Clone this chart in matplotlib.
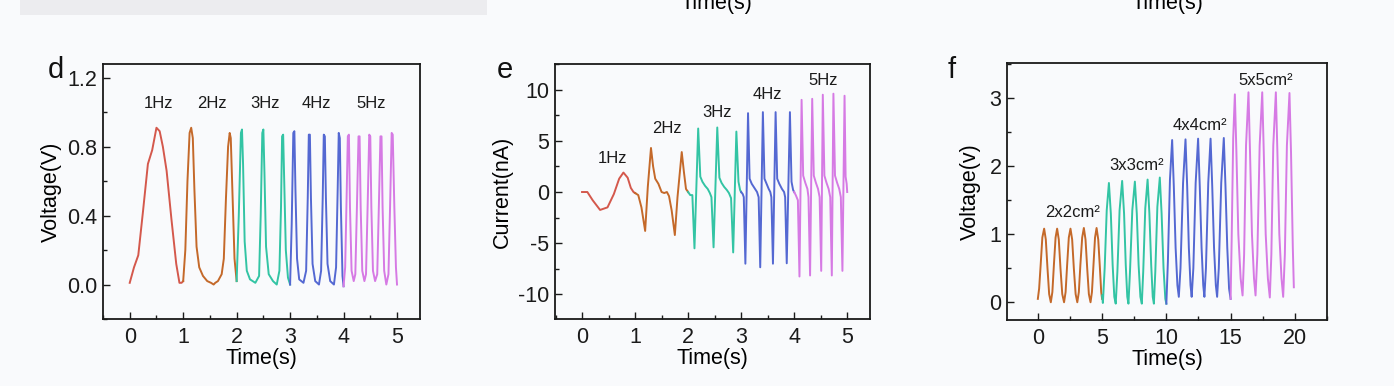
import matplotlib
matplotlib.use("Agg")
import matplotlib.pyplot as plt
from matplotlib.ticker import MultipleLocator, FormatStrFormatter

plt.rcParams['font.family'] = ['Liberation Sans', 'DejaVu Sans']
plt.rcParams['axes.unicode_minus'] = False

# ---------------- data: panel d (voltage vs frequency) ----------------
d_freq_labels = ["1Hz", "2Hz", "3Hz", "4Hz", "5Hz"]
d_t_1 = [0.00, 0.08, 0.16, 0.25, 0.34, 0.42, 0.50, 0.56, 0.62, 0.69, 0.78, 0.87, 0.93, 0.97, 1.00]
d_v_1 = [0.01, 0.10, 0.17, 0.43, 0.70, 0.78, 0.91, 0.89, 0.80, 0.66, 0.38, 0.12, 0.01, 0.01, 0.02]
d_t_2 = [1.00, 1.04, 1.08, 1.12, 1.15, 1.18, 1.21, 1.25, 1.30, 1.37, 1.45, 1.52, 1.57, 1.60, 1.65,
         1.72, 1.76, 1.80, 1.84, 1.87, 1.89, 1.92, 1.96, 2.00]
d_v_2 = [0.02, 0.20, 0.60, 0.88, 0.91, 0.85, 0.55, 0.22, 0.10, 0.05, 0.02, 0.01, 0.00, 0.01, 0.02,
         0.06, 0.15, 0.50, 0.80, 0.88, 0.85, 0.55, 0.15, 0.02]
d_t_3 = [2.00, 2.04, 2.08, 2.10, 2.12, 2.15, 2.19, 2.25, 2.35, 2.42, 2.45, 2.48, 2.50, 2.52, 2.55,
         2.60, 2.68, 2.75, 2.80, 2.83, 2.85, 2.87, 2.89, 2.92, 2.96, 3.00]
d_v_3 = [0.02, 0.40, 0.88, 0.90, 0.70, 0.25, 0.08, 0.03, 0.01, 0.05, 0.40, 0.88, 0.90, 0.65, 0.22,
         0.06, 0.02, 0.00, 0.08, 0.45, 0.86, 0.87, 0.60, 0.20, 0.04, 0.00]
d_t_4 = [3.00, 3.03, 3.06, 3.08, 3.10, 3.13, 3.17, 3.25, 3.30, 3.33, 3.35, 3.37, 3.39, 3.42, 3.47,
         3.54, 3.58, 3.61, 3.63, 3.65, 3.67, 3.70, 3.75, 3.82, 3.86, 3.89, 3.91, 3.93, 3.95, 3.98, 4.00]
d_v_4 = [0.00, 0.35, 0.88, 0.89, 0.55, 0.15, 0.03, 0.01, 0.08, 0.50, 0.87, 0.87, 0.50, 0.12, 0.02,
         0.00, 0.08, 0.50, 0.87, 0.86, 0.50, 0.12, 0.02, 0.00, 0.10, 0.55, 0.88, 0.85, 0.45, 0.05, -0.01]
d_t_5 = [4.00, 4.03, 4.06, 4.08, 4.10, 4.12, 4.15, 4.19, 4.22, 4.25, 4.28, 4.30, 4.32, 4.35, 4.39,
         4.42, 4.45, 4.48, 4.50, 4.52, 4.55, 4.59, 4.63, 4.66, 4.69, 4.71, 4.73, 4.76, 4.80, 4.84,
         4.87, 4.90, 4.92, 4.95, 4.98, 5.00]
d_v_5 = [-0.01, 0.10, 0.55, 0.86, 0.87, 0.45, 0.08, 0.02, 0.06, 0.45, 0.86, 0.86, 0.45, 0.08, 0.02,
         0.06, 0.45, 0.87, 0.86, 0.45, 0.08, 0.02, 0.06, 0.45, 0.86, 0.86, 0.45, 0.08, 0.00, 0.06,
         0.45, 0.88, 0.87, 0.45, 0.10, 0.00]

# ---------------- data: panel e (current vs frequency) ----------------
e_t_1 = [0.00, 0.10, 0.20, 0.34, 0.48, 0.60, 0.70, 0.78, 0.86, 0.92, 0.97, 1.00]
e_v_1 = [0.0, 0.0, -0.8, -1.75, -1.5, -0.2, 1.3, 1.9, 1.4, 0.4, 0.0, -0.1]
e_t_2 = [1.00, 1.06, 1.12, 1.19, 1.24, 1.30, 1.34, 1.38, 1.44, 1.50, 1.55, 1.60, 1.64, 1.69, 1.75,
         1.80, 1.88, 1.92, 1.96, 2.00]
e_v_2 = [-0.1, -0.3, -1.5, -3.8, 0.5, 4.3, 2.5, 1.3, 0.8, 0.0, -0.1, 0.0, -0.4, -1.8, -4.2,
         -0.5, 3.9, 2.0, 0.3, 0.0]
e_t_3 = [2.00, 2.04, 2.08, 2.12, 2.19, 2.23, 2.27, 2.32, 2.37, 2.41, 2.44, 2.48, 2.55, 2.59, 2.63,
         2.68, 2.73, 2.77, 2.81, 2.85, 2.91, 2.95, 2.98, 3.00]
e_v_3 = [0.0, -0.3, -0.3, -5.5, 6.2, 1.5, 1.0, 0.6, 0.3, -0.1, -0.5, -5.4, 6.3, 1.4, 0.9,
         0.5, 0.2, -0.1, -0.6, -5.9, 5.9, 1.0, 0.2, 0.0]
e_t_4 = [3.00, 3.03, 3.05, 3.08, 3.13, 3.16, 3.20, 3.25, 3.30, 3.33, 3.36, 3.41, 3.44, 3.48, 3.52,
         3.55, 3.57, 3.60, 3.65, 3.68, 3.72, 3.77, 3.81, 3.83, 3.86, 3.92, 3.95, 3.98, 4.00]
e_v_4 = [0.0, -0.2, -0.5, -7.0, 7.7, 1.3, 0.8, 0.4, 0.0, -0.5, -7.35, 7.8, 1.3, 0.8, 0.3,
         0.0, -0.5, -7.0, 7.8, 1.3, 0.8, 0.3, 0.0, -0.5, -6.96, 7.8, 1.0, 0.2, 0.0]
e_t_5 = [4.00, 4.03, 4.07, 4.10, 4.14, 4.17, 4.21, 4.25, 4.27, 4.30, 4.34, 4.37, 4.41, 4.45, 4.48,
         4.51, 4.54, 4.57, 4.61, 4.65, 4.68, 4.71, 4.74, 4.77, 4.81, 4.85, 4.88, 4.91, 4.95, 4.97,
         4.99, 5.00]
e_v_5 = [0.0, -0.3, -0.8, -8.25, 9.0, 1.6, 0.9, 0.3, -0.5, -8.15, 9.1, 1.6, 0.9, 0.3, -0.5,
         -7.7, 9.5, 1.6, 0.9, 0.3, -0.5, -8.15, 9.6, 1.6, 0.9, 0.3, -0.5, -7.7, 9.4, 1.5,
         0.8, 0.0]

# ---------------- data: panel f (voltage vs area) ----------------
f_area_labels = ["2x2cm\u00b2", "3x3cm\u00b2", "4x4cm\u00b2", "5x5cm\u00b2"]
f_t_2 = [0.00, 0.10, 0.22, 0.35, 0.49, 0.62, 0.75, 0.88, 1.01, 1.13, 1.25, 1.38, 1.50, 1.63, 1.76,
         1.90, 2.04, 2.16, 2.28, 2.41, 2.54, 2.67, 2.80, 2.94, 3.07, 3.19, 3.31, 3.45, 3.58, 3.71,
         3.84, 3.97, 4.10, 4.21, 4.33, 4.45, 4.57, 4.70, 4.83, 4.93, 5.00]
f_v_2 = [0.05, 0.20, 0.55, 0.95, 1.08, 0.92, 0.50, 0.12, 0.00, 0.15, 0.55, 0.95, 1.08, 0.92, 0.50,
         0.12, 0.00, 0.15, 0.55, 0.95, 1.08, 0.92, 0.50, 0.12, 0.00, 0.15, 0.55, 0.95, 1.09, 0.92,
         0.50, 0.12, 0.00, 0.15, 0.55, 0.95, 1.09, 0.92, 0.50, 0.15, 0.05]
f_t_3 = [5.00, 5.06, 5.20, 5.36, 5.53, 5.68, 5.82, 5.95, 6.06, 6.19, 6.36, 6.56, 6.71, 6.84, 6.96,
         7.05, 7.17, 7.35, 7.55, 7.70, 7.84, 7.98, 8.09, 8.20, 8.36, 8.54, 8.68, 8.82, 8.94, 9.03,
         9.14, 9.30, 9.49, 9.63, 9.78, 9.92, 10.00]
f_v_3 = [0.10, -0.01, 0.50, 1.35, 1.75, 1.30, 0.55, 0.08, -0.02, 0.45, 1.35, 1.78, 1.30, 0.55, 0.08,
         -0.02, 0.45, 1.35, 1.77, 1.30, 0.55, 0.08, -0.02, 0.45, 1.38, 1.80, 1.30, 0.55, 0.08, -0.02,
         0.45, 1.40, 1.83, 1.30, 0.50, 0.05, -0.02]
f_t_4 = [10.00, 10.12, 10.28, 10.45, 10.58, 10.72, 10.86, 10.97, 11.10, 11.30, 11.49, 11.62, 11.75,
         11.88, 11.97, 12.10, 12.28, 12.47, 12.60, 12.74, 12.87, 12.96, 13.08, 13.26, 13.44, 13.57,
         13.71, 13.85, 13.95, 14.08, 14.27, 14.47, 14.60, 14.74, 14.88, 15.00]
f_v_4 = [-0.02, 0.60, 1.80, 2.38, 1.70, 0.80, 0.25, 0.08, 0.50, 1.75, 2.39, 1.70, 0.80,
         0.25, 0.08, 0.50, 1.75, 2.40, 1.70, 0.80, 0.25, 0.08, 0.50, 1.75, 2.40, 1.70,
         0.80, 0.25, 0.08, 0.50, 1.75, 2.41, 1.70, 0.80, 0.20, 0.05]
f_t_5 = [15.00, 15.08, 15.20, 15.33, 15.45, 15.60, 15.78, 15.93, 16.05, 16.20, 16.39, 16.51, 16.66,
         16.82, 16.94, 17.08, 17.26, 17.46, 17.58, 17.73, 17.90, 18.05, 18.17, 18.32, 18.52, 18.64,
         18.79, 18.96, 19.09, 19.22, 19.38, 19.58, 19.70, 19.84, 19.92]
f_v_5 = [0.05, 0.90, 2.40, 3.05, 2.20, 1.00, 0.35, 0.10, 0.70, 2.30, 3.08, 2.20, 1.00,
         0.35, 0.10, 0.70, 2.30, 3.08, 2.20, 1.00, 0.35, 0.07, 0.70, 2.30, 3.08, 2.20,
         1.00, 0.35, 0.08, 0.70, 2.30, 3.07, 2.20, 0.80, 0.22]

# ---------------- styling ----------------
c_red = '#d4584c'
c_brown = '#c4692a'
c_teal = '#33c4a4'
c_blue = '#5468d2'
c_violet = '#d67ae4'
bg = '#f9fafc'
lw = 1.4
tick_fs = 15.5
label_fs = 15.5
ann_fs = 12

fig = plt.figure(figsize=(13.94, 3.86), dpi=100, facecolor=bg)

# faint remnants of the panels above (cropped in the reference)
fig.patches.append(plt.Rectangle((20 / 1394, 1 - 15 / 386), 467 / 1394, 15 / 386,
                                 transform=fig.transFigure, facecolor='#ececef',
                                 edgecolor='none', zorder=0))
fig.text(716 / 1394, 1 - 9 / 386, "Time(s)", ha='center', va='baseline', fontsize=label_fs)
fig.text(1167 / 1394, 1 - 9 / 386, "Time(s)", ha='center', va='baseline', fontsize=label_fs)


def style(ax, xmaj, xmin, ymaj, ymin):
    ax.set_facecolor(bg)
    for s in ax.spines.values():
        s.set_linewidth(1.3)
        s.set_color('#1a1a1a')
    ax.xaxis.set_major_locator(MultipleLocator(xmaj))
    ax.xaxis.set_minor_locator(MultipleLocator(xmin))
    ax.yaxis.set_major_locator(MultipleLocator(ymaj))
    ax.yaxis.set_minor_locator(MultipleLocator(ymin))
    ax.tick_params(which='both', direction='in', top=False, right=False,
                   labelsize=tick_fs, width=1.0, colors='#1a1a1a')
    ax.tick_params(which='major', length=5)
    ax.tick_params(which='minor', length=3)
    ax.tick_params(axis='x', pad=6)
    ax.tick_params(axis='y', pad=4)


# ---------------- panel d ----------------
axd = fig.add_axes([103 / 1394, 1 - 319 / 386, 317 / 1394, 255 / 386])
for t, v, c in [(d_t_1, d_v_1, c_red), (d_t_2, d_v_2, c_brown), (d_t_3, d_v_3, c_teal),
                (d_t_4, d_v_4, c_blue), (d_t_5, d_v_5, c_violet)]:
    axd.plot(t, v, color=c, lw=lw)
axd.set_xlim(-0.5, 5.43)
axd.set_ylim(-0.2, 1.28)
style(axd, 1, 0.5, 0.4, 0.2)
axd.yaxis.set_major_formatter(FormatStrFormatter('%.1f'))
axd.set_xlabel("Time(s)", fontsize=label_fs, labelpad=0)
axd.set_ylabel("Voltage(V)", fontsize=label_fs, labelpad=4)
d_ann_x = [0.54, 1.53, 2.53, 3.50, 4.51]
d_ann_y = [1.05, 1.05, 1.05, 1.05, 1.05]
for lab, x, y in zip(d_freq_labels, d_ann_x, d_ann_y):
    axd.text(x, y, lab, ha='center', va='center', fontsize=ann_fs, color='#1a1a1a')

# ---------------- panel e ----------------
axe = fig.add_axes([555 / 1394, 1 - 319 / 386, 315 / 1394, 255 / 386])
for t, v, c in [(e_t_1, e_v_1, c_red), (e_t_2, e_v_2, c_brown), (e_t_3, e_v_3, c_teal),
                (e_t_4, e_v_4, c_blue), (e_t_5, e_v_5, c_violet)]:
    axe.plot(t, v, color=c, lw=lw)
axe.set_xlim(-0.51, 5.43)
axe.set_ylim(-12.4, 12.5)
style(axe, 1, 0.5, 5, 2.5)
axe.set_xlabel("Time(s)", fontsize=label_fs, labelpad=0)
axe.set_ylabel("Current(nA)", fontsize=label_fs, labelpad=4)
e_ann_x = [0.58, 1.60, 2.55, 3.50, 4.55]
e_ann_y = [3.3, 6.2, 7.8, 9.5, 10.9]
for lab, x, y in zip(d_freq_labels, e_ann_x, e_ann_y):
    axe.text(x, y, lab, ha='center', va='center', fontsize=ann_fs, color='#1a1a1a')

# ---------------- panel f ----------------
axf = fig.add_axes([1007 / 1394, 1 - 320 / 386, 320 / 1394, 257 / 386])
for t, v, c in [(f_t_2, f_v_2, c_brown), (f_t_3, f_v_3, c_teal),
                (f_t_4, f_v_4, c_blue), (f_t_5, f_v_5, c_violet)]:
    axf.plot(t, v, color=c, lw=lw)
axf.set_xlim(-2.4, 22.5)
axf.set_ylim(-0.26, 3.51)
style(axf, 5, 2.5, 1, 0.5)
axf.set_xlabel("Time(s)", fontsize=label_fs, labelpad=0)
axf.set_ylabel("Voltage(v)", fontsize=label_fs, labelpad=6)
f_ann_x = [2.7, 7.7, 12.6, 17.7]
f_ann_y = [1.31, 2.01, 2.60, 3.26]
for lab, x, y in zip(f_area_labels, f_ann_x, f_ann_y):
    axf.text(x, y, lab, ha='center', va='center', fontsize=ann_fs, color='#1a1a1a')

# panel letters
for letter, x in [("d", 48), ("e", 497), ("f", 948)]:
    fig.text(x / 1394, 1 - 78 / 386, letter, fontsize=21, ha='left', va='baseline',
             color='#111111')

fig.savefig("out.png", dpi=100, facecolor=bg)
